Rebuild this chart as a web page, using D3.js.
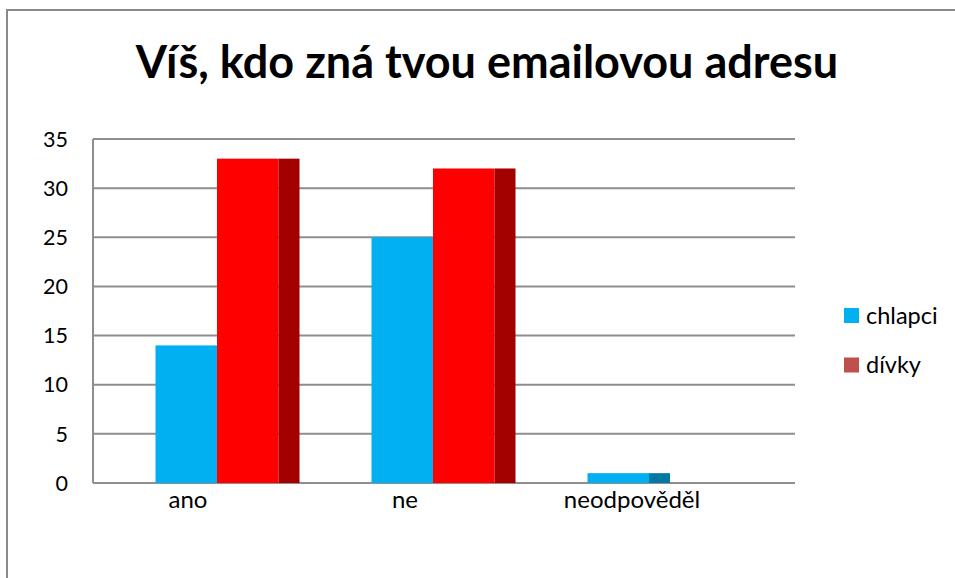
<!DOCTYPE html>
<html><head><meta charset="utf-8">
<script src="https://cdn.jsdelivr.net/npm/d3@7"></script>
<style>body{margin:0;background:#fff}svg{display:block}text{font-family:Lato,"Open Sans",sans-serif;fill:#000}</style>
</head><body><svg id="c" width="955" height="578"></svg>
<script>
const title = "Víš, kdo zná tvou emailovou adresu";
const categories = ["ano", "ne", "neodpověděl"];
const seriesNames = ["chlapci", "dívky"];
const chlapci = [14, 25, 1];
const divky = [33, 32, 0];
const yTicks = [0, 5, 10, 15, 20, 25, 30, 35];

const frontColors = ["#00B0F0", "#FF0000"];
const sideColors = ["#0079A6", "#A30000"];
const legendColors = ["#00B0F0", "#C0504D"];

const svg = d3.select("#c");
svg.append("rect").attr("x", 7).attr("y", 10).attr("width", 1000).attr("height", 1000)
  .attr("fill", "#fff").attr("stroke", "#898989").attr("stroke-width", 2);

const plot = {left: 93, right: 795, top: 139, bottom: 483};
const y = d3.scaleLinear().domain([0, 35]).range([plot.bottom, plot.top]);

const g = svg.append("g");
g.selectAll("line.grid").data(yTicks).join("line")
  .attr("x1", plot.left).attr("x2", plot.right)
  .attr("y1", d => y(d)).attr("y2", d => y(d))
  .attr("stroke", "#8E8E8E").attr("stroke-width", 2);
g.append("line").attr("x1", plot.left).attr("x2", plot.left)
  .attr("y1", plot.top).attr("y2", plot.bottom)
  .attr("stroke", "#8E8E8E").attr("stroke-width", 2);
g.selectAll("text.yl").data(yTicks).join("text")
  .attr("x", 68).attr("y", d => y(d)).attr("dy", "0.36em")
  .attr("text-anchor", "end").attr("font-size", 21.5).text(d => d);

const x0 = d3.scaleBand().domain(categories).range([109, 757]);
const x1 = d3.scaleBand().domain(seriesNames).range([46.5, 46.5 + 123]);
const depth = 21;
const series = [chlapci, divky];
series.forEach((vals, si) => {
  const grp = svg.append("g");
  categories.forEach((c, ci) => {
    const v = vals[ci];
    if (!v) return;
    const bx = x0(c) + x1(seriesNames[si]);
    const bw = x1.bandwidth();
    grp.append("rect").attr("x", bx).attr("y", y(v)).attr("width", bw)
      .attr("height", y(0) - y(v)).attr("fill", frontColors[si]);
    grp.append("rect").attr("x", bx + bw).attr("y", y(v)).attr("width", depth)
      .attr("height", y(0) - y(v)).attr("fill", sideColors[si]);
  });
});

const labelShift = {"ano": -29, "ne": -28, "neodpověděl": -17};
svg.selectAll("text.xl").data(categories).join("text")
  .attr("x", d => x0(d) + x0.bandwidth() / 2 + labelShift[d])
  .attr("y", 508).attr("text-anchor", "middle").attr("font-size", 24).text(d => d);

svg.append("text").attr("x", 487).attr("y", 78).attr("text-anchor", "middle")
  .attr("font-size", 45).attr("font-weight", "bold").text(title);

const lg = svg.append("g");
seriesNames.forEach((s, i) => {
  const ly = 315.5 + i * 49.5;
  lg.append("rect").attr("x", 844).attr("y", ly - 7.5).attr("width", 15).attr("height", 15)
    .attr("fill", legendColors[i]);
  lg.append("text").attr("x", 866).attr("y", ly).attr("dy", "0.35em")
    .attr("font-size", 23.5).text(s);
});
</script></body></html>
